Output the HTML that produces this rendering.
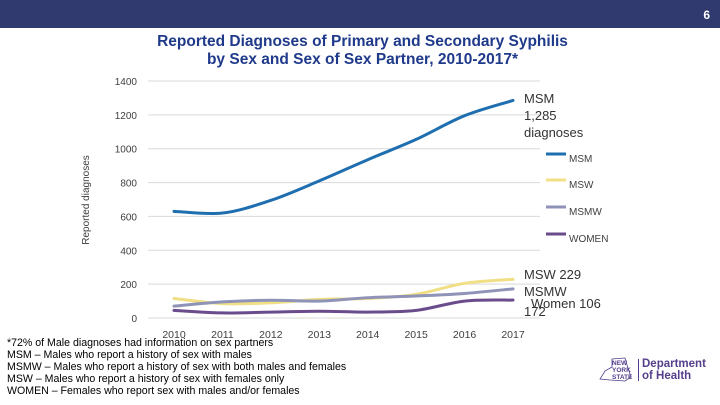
<!DOCTYPE html>
<html><head><meta charset="utf-8"><style>
body{margin:0;width:720px;height:405px;overflow:hidden;background:#fff;font-family:"Liberation Sans",sans-serif;position:relative}
.t{position:absolute;white-space:nowrap}
</style></head><body>
<div style="position:absolute;left:0;top:0;width:720px;height:28px;background:#313a6f"></div>
<div class="t" style="right:10px;top:8px;color:#fff;font-size:12px;font-weight:bold">6</div>
<div class="t" style="left:0;width:725px;top:33px;text-align:center;color:#1f3a8a;font-size:15.5px;font-weight:bold;line-height:18px">Reported Diagnoses of Primary and Secondary Syphilis<br>by Sex and Sex of Sex Partner, 2010-2017*</div>
<svg id="chart" width="720" height="405" style="position:absolute;left:0;top:0"></svg>
<div class="t" style="left:7px;top:337px;font-size:10.6px;line-height:12px;color:#000">*72% of Male diagnoses had information on sex partners<br>MSM – Males who report a history of sex with males<br>MSMW – Males who report a history of sex with both males and females<br>MSW – Males who report a history of sex with females only<br>WOMEN – Females who report sex with males and/or females</div>
<div style="position:absolute;left:598px;top:356px;width:110px;height:28px">
<svg width="40" height="28" style="position:absolute;left:0;top:0"><path d="M14 3 L27 2 L29 9 L33 21 L27 25 L12 24 L2 23 L7 15 L14 11 Z" fill="none" stroke="#553e8c" stroke-width="0.8"/><text x="14" y="9" font-size="6.5" font-weight="bold" fill="#553e8c" font-family="Liberation Sans">NEW</text><text x="14" y="16" font-size="6.5" font-weight="bold" fill="#553e8c" font-family="Liberation Sans">YORK</text><text x="14" y="23" font-size="6.5" font-weight="bold" fill="#553e8c" font-family="Liberation Sans">STATE</text></svg>
<div style="position:absolute;left:40px;top:3px;width:1px;height:22px;background:#553e8c"></div>
<div class="t" style="left:44px;top:2px;font-size:11.5px;font-weight:bold;color:#553e8c;line-height:12px">Department<br>of Health</div>
</div>
<script>
const years=[2010,2011,2012,2013,2014,2015,2016,2017];
const yTicks=[0,200,400,600,800,1000,1200,1400];
const msm=[630,620,695,810,935,1055,1195,1285];
const msw=[115,85,90,110,115,140,205,229];
const msmw=[70,95,105,100,120,130,145,172];
const women=[45,30,35,40,35,45,100,106];
const svg=document.getElementById('chart');const NS='http://www.w3.org/2000/svg';
const x=v=>174+(v-2010)*48.43;const y=v=>318-v*237/1400;
function el(t,a){const e=document.createElementNS(NS,t);for(const k in a)e.setAttribute(k,a[k]);svg.appendChild(e);return e;}
yTicks.forEach(v=>{const g=el('line',{x1:148,x2:540,y1:y(v),y2:y(v),stroke:'#d9d9d9','stroke-width':1});


const t=el('text',{x:137,y:y(v)+4,'text-anchor':'end','font-size':10,fill:'#404040','font-family':'Liberation Sans'});t.textContent=v;

});
years.forEach(v=>{const t=el('text',{x:x(v),y:338,'text-anchor':'middle','font-size':10.5,fill:'#404040','font-family':'Liberation Sans'});t.textContent=v;

});
const yt=el('text',{x:0,y:0,transform:'translate(89,200) rotate(-90)','text-anchor':'middle','font-size':10,fill:'#404040','font-family':'Liberation Sans'});yt.textContent='Reported diagnoses';


function path(d){const p=d.map((v,i)=>[x(years[i]),y(v)]);let s='M'+p[0];for(let i=0;i<p.length-1;i++){const p0=p[i-1]||p[i],p1=p[i],p2=p[i+1],p3=p[i+2]||p2;
s+=' C'+(p1[0]+(p2[0]-p0[0])/6)+','+(p1[1]+(p2[1]-p0[1])/6)+' '+(p2[0]-(p3[0]-p1[0])/6)+','+(p2[1]-(p3[1]-p1[1])/6)+' '+p2;}return s;}
const series=[['msw',msw,'#f0df84'],['msmw',msmw,'#8f93b8'],['women',women,'#6a4c8c'],['msm',msm,'#1f6fb0']];
series.forEach(s=>{const p=el('path',{d:path(s[1]),fill:'none',stroke:s[2],'stroke-width':3,'stroke-linecap':'round'});

});
const leg=[['MSM','#1f6fb0',158],['MSW','#f0df84',184],['MSMW','#8f93b8',211],['WOMEN','#6a4c8c',238]];
leg.forEach(l=>{const g=el('line',{x1:546,x2:566,y1:l[2]-4,y2:l[2]-4,stroke:l[1],'stroke-width':3});


const t=el('text',{x:569,y:l[2]+4,'font-size':10,fill:'#404040','font-family':'Liberation Sans'});t.textContent=l[0];

});
function lab(lines,yy){lines.forEach((s,i)=>{const t=el('text',{x:524,y:yy+i*17,'font-size':13,fill:'#333','font-family':'Liberation Sans'});t.textContent=s;

});}
lab(['MSM','1,285','diagnoses'],103);
lab(['MSW 229','MSMW'],279);
lab(['172'],316);
const w=el('text',{x:531,y:308,'font-size':13,fill:'#333','font-family':'Liberation Sans'});w.textContent='Women 106';


</script>
</body></html>
